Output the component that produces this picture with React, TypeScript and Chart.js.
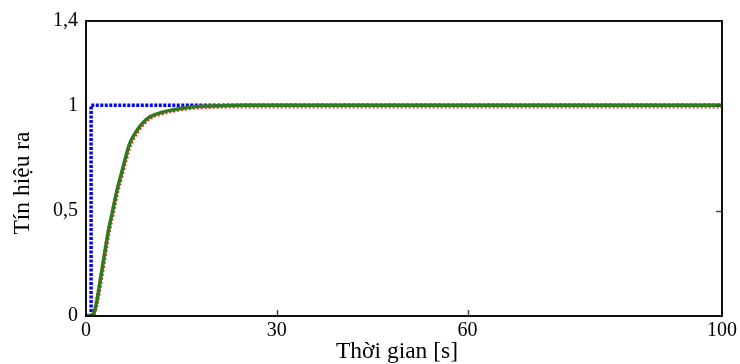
import React, { useEffect, useRef } from "react";
import { Chart, registerables } from "chart.js";

Chart.register(...registerables);

// Tick values and labels
const xTicks = [0, 30, 60, 100];
const yTicks = [0, 0.5, 1, 1.4];
const xTitle = "Thời gian [s]";
const yTitle = "Tín hiệu ra";

// Reference step input (blue)
const stepTime = [0, 0.8, 0.8, 100];
const stepValue = [0, 0, 1, 1];

// System output (green)
const outTime = [0, 0.8, 1.2, 1.7, 2.2, 3, 3.5, 4.2, 4.9, 5.6, 6.2, 6.9, 8, 9, 10, 12, 13.6, 16, 20, 25, 40, 60, 80, 100];
const outGreen = [0, 0, 0.01, 0.07, 0.16, 0.31, 0.4, 0.5, 0.6, 0.68, 0.75, 0.82, 0.88, 0.918, 0.944, 0.967, 0.978, 0.99, 0.997, 1, 1, 1, 1, 1];
// Model output (red dotted)
const outRed = [0, 0, 0.008, 0.065, 0.15, 0.3, 0.39, 0.49, 0.59, 0.67, 0.74, 0.81, 0.873, 0.912, 0.94, 0.963, 0.975, 0.987, 0.994, 0.996, 0.996, 0.996, 0.996, 0.996];

const FONT = "'Liberation Serif', 'Times New Roman', serif";

const fmt = (v: number) => String(v).replace(".", ",");

export default function App() {
  const ref = useRef<HTMLCanvasElement | null>(null);

  useEffect(() => {
    if (!ref.current) return;
    const framePlugin = {
      id: "frame",
      afterDraw(chart: any) {
        const { ctx, chartArea: a, scales } = chart;
        ctx.save();
        ctx.strokeStyle = "#111";
        ctx.lineWidth = 2;
        ctx.strokeRect(a.left, a.top, a.right - a.left, a.bottom - a.top);
        ctx.lineWidth = 1.5;
        ctx.strokeStyle = "#444";
        xTicks.slice(1, -1).forEach((v) => {
          const px = Math.round(scales.x.getPixelForValue(v)) + 0.5;
          ctx.beginPath();
          ctx.moveTo(px, a.bottom);
          ctx.lineTo(px, a.bottom - 6);
          ctx.stroke();
        });
        yTicks.slice(1, -1).forEach((v) => {
          const py = Math.round(scales.y.getPixelForValue(v)) + 0.5;
          ctx.beginPath();
          ctx.moveTo(a.right, py);
          ctx.lineTo(a.right - 6, py);
          ctx.stroke();
        });
        ctx.fillStyle = "#000";
        ctx.font = `23.5px ${FONT}`;
        ctx.textAlign = "center";
        ctx.textBaseline = "middle";
        ctx.fillText(xTitle, 397, 352);
        ctx.translate(23, 183);
        ctx.rotate(-Math.PI / 2);
        ctx.fillText(yTitle, 0, 0);
        ctx.restore();
      },
    };

    const chart = new Chart(ref.current, {
      type: "line",
      data: {
        datasets: [
          {
            label: "green",
            data: outTime.map((t, i) => ({ x: t, y: outGreen[i] })),
            borderColor: "#2f7a1c",
            borderWidth: 3.5,
            pointRadius: 0,
            cubicInterpolationMode: "monotone",
          },
          {
            label: "red",
            data: outTime.map((t, i) => ({ x: t, y: outRed[i] })),
            borderColor: "#ff2a2a",
            borderWidth: 4.5,
            borderDash: [2, 2],
            pointRadius: 0,
            cubicInterpolationMode: "monotone",
          },
          {
            label: "blue",
            data: stepTime.map((t, i) => ({ x: t, y: stepValue[i] })),
            borderColor: "#0000ff",
            borderWidth: 3.5,
            borderDash: [3, 1.5],
            pointRadius: 0,
          },
        ],
      },
      options: {
        animation: false,
        responsive: false,
        devicePixelRatio: 1,
        layout: { padding: { top: 21, right: 15, left: 0, bottom: 0 } },
        plugins: { legend: { display: false }, tooltip: { enabled: false } },
        scales: {
          x: {
            type: "linear",
            min: 0,
            max: 100,
            grid: { display: false, drawTicks: false },
            border: { display: false },
            afterFit: (s: any) => {
              s.height = 48;
            },
            afterBuildTicks: (s: any) => {
              s.ticks = xTicks.map((v) => ({ value: v }));
            },
            ticks: {
              color: "#000",
              padding: 3,
              maxRotation: 0,
              autoSkip: false,
              font: { family: FONT, size: 20 },
              callback: (v: any) => fmt(Number(v)),
            },
          },
          y: {
            type: "linear",
            min: 0,
            max: 1.4,
            grid: { display: false, drawTicks: false },
            border: { display: false },
            afterFit: (s: any) => {
              s.width = 86;
            },
            afterBuildTicks: (s: any) => {
              s.ticks = yTicks.map((v) => ({ value: v }));
            },
            ticks: {
              color: "#000",
              padding: 8,
              autoSkip: false,
              font: { family: FONT, size: 20 },
              callback: (v: any) => fmt(Number(v)),
            },
          },
        },
      },
      plugins: [framePlugin],
    } as any);
    return () => chart.destroy();
  }, []);

  return (
    <div style={{ position: "absolute", left: 0, top: 0, width: 740, height: 364, background: "#fff" }}>
      <canvas ref={ref} width={740} height={364} />
    </div>
  );
}
